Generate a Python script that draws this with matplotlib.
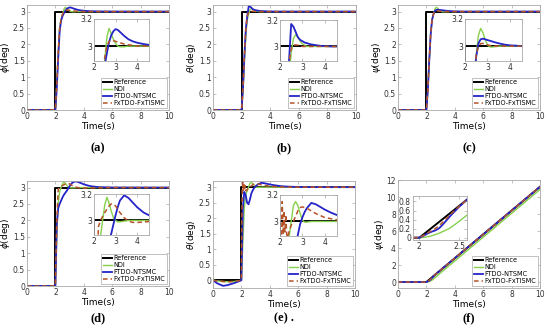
import matplotlib
matplotlib.use("Agg")
import matplotlib.pyplot as plt

# common time grid for the step responses (s)
T = [0, 0.3, 0.7, 1.0, 1.5, 1.9, 2.0, 2.1, 2.2, 2.3, 2.4, 2.5, 2.6, 2.7, 2.8, 2.9,
     3.0, 3.1, 3.2, 3.4, 3.6, 3.8, 4.0, 4.3, 4.6, 5.0, 6.0, 10.0]
Z = [0, 0, 0, 0, 0, 0, 0]

ref_t = [0, 2, 2, 10]
ref_y = [0, 0, 3, 3]

# (a) phi
ndi_a = Z + [0.8, 1.8, 2.5, 2.75, 2.9, 3.07, 3.13, 3.09, 3.05, 3.02, 3.0, 2.995, 2.995,
             3.0, 3.0, 3.0, 3.0, 3.0, 3.0, 3.0, 3.0]
ftdo_a = Z + [0.7, 1.6, 2.4, 2.72, 2.86, 2.95, 3.03, 3.08, 3.11, 3.125, 3.12, 3.105, 3.075,
              3.05, 3.035, 3.025, 3.015, 3.008, 3.004, 3.0, 3.0]
fx_a = Z + [0.8, 1.8, 2.5, 2.78, 2.92, 3.0, 3.035, 3.045, 3.04, 3.035, 3.03, 3.025, 3.015,
            3.01, 3.005, 3.0, 3.0, 3.0, 3.0, 3.0, 3.0]

# (b) theta
ndi_b = Z + [0.6, 1.5, 2.3, 2.75, 2.95, 3.06, 3.09, 3.07, 3.04, 3.02, 3.01, 3.0, 3.0,
             3.0, 3.0, 3.0, 3.0, 3.0, 3.0, 3.0, 3.0]
ftdo_b = Z + [0.7, 1.7, 2.5, 2.88, 3.17, 3.15, 3.11, 3.07, 3.05, 3.04, 3.03, 3.025, 3.015,
              3.01, 3.005, 3.003, 3.0, 3.0, 3.0, 3.0, 3.0]
fx_b = Z + [0.7, 1.7, 2.5, 2.88, 2.98, 3.01, 3.012, 3.01, 3.005, 3.0, 3.0, 3.0, 3.0,
            3.0, 3.0, 3.0, 3.0, 3.0, 3.0, 3.0, 3.0]

# (c) psi
ndi_c = Z + [0.6, 1.5, 2.3, 2.75, 2.93, 3.08, 3.13, 3.1, 3.05, 3.01, 2.995, 2.993, 2.997,
             3.0, 3.0, 3.0, 3.0, 3.0, 3.0, 3.0, 3.0]
ftdo_c = Z + [0.6, 1.5, 2.3, 2.75, 2.92, 3.02, 3.05, 3.055, 3.05, 3.045, 3.04, 3.035, 3.025,
              3.017, 3.01, 3.006, 3.003, 3.0, 3.0, 3.0, 3.0]
fx_c = Z + [0.6, 1.5, 2.3, 2.75, 2.93, 3.0, 3.018, 3.02, 3.015, 3.01, 3.005, 3.0, 3.0,
            3.0, 3.0, 3.0, 3.0, 3.0, 3.0, 3.0, 3.0]

# (d) phi
ndi_d = Z + [1.6, 2.55, 2.88, 3.0, 3.12, 3.175, 3.13, 3.07, 3.02, 3.0, 2.99, 2.99, 2.995,
             3.0, 3.0, 3.0, 3.0, 3.0, 3.0, 3.0, 3.0]
ftdo_d = Z + [1.9, 2.38, 2.5, 2.6, 2.7, 2.78, 2.84, 2.9, 2.97, 3.04, 3.1, 3.15, 3.19,
              3.17, 3.135, 3.1, 3.06, 3.035, 3.015, 3.002, 3.0]
fx_d = Z + [2.0, 2.95, 3.0, 3.03, 3.06, 3.085, 3.11, 3.125, 3.125, 3.11, 3.085, 3.06, 3.02,
            2.995, 2.985, 2.985, 2.988, 2.993, 2.998, 3.0, 3.0]

# (e) theta
ndi_e = [0, -0.02, -0.04, -0.05, -0.04, -0.01, 0, 1.2, 2.3, 2.75, 2.87, 3.0, 3.12, 3.15,
         3.12, 3.06, 3.01, 2.995, 2.995, 3.0, 3.0, 3.0, 3.0, 3.0, 3.0, 3.0, 3.0, 3.0]
ftdo_e = [0, -0.1, -0.18, -0.16, -0.09, -0.02, 0, 2.3, 2.85, 2.75, 2.5, 2.45, 2.6, 2.8,
          2.9, 2.98, 3.03, 3.07, 3.1, 3.14, 3.13, 3.11, 3.09, 3.065, 3.045, 3.025, 3.005, 3.0]
fx_e_t = [0, 0.3, 0.7, 1.0, 1.5, 1.9, 2.0, 2.03, 2.06, 2.1, 2.14, 2.18, 2.22, 2.26, 2.3,
          2.35, 2.4, 2.5, 2.6, 2.7, 2.8, 2.9, 3.0, 3.2, 3.4, 3.6, 3.8, 4.0, 4.3, 4.6, 5.0,
          6.0, 10.0]
fx_e = [0, -0.02, -0.04, -0.05, -0.04, -0.01, 0, 2.0, 2.9, 3.15, 2.9, 3.08, 2.92, 3.05, 2.9,
        2.88, 2.92, 2.97, 3.0, 3.04, 3.08, 3.105, 3.11, 3.1, 3.08, 3.06, 3.045, 3.03, 3.02,
        3.01, 3.005, 3.0, 3.0]

# (f) psi ramp
f_t = [0, 2.0, 2.05, 2.1, 2.15, 2.2, 2.25, 2.3, 2.35, 2.4, 2.5, 2.6, 3.0, 10.0]
ref_f = [0, 0, 0.07, 0.14, 0.21, 0.28, 0.35, 0.42, 0.49, 0.56, 0.7, 0.84, 1.4, 11.2]
ndi_f = [0, 0, 0.005, 0.02, 0.04, 0.07, 0.1, 0.14, 0.18, 0.23, 0.36, 0.5, 1.08, 10.88]
ftdo_f = [0, 0, 0.04, 0.09, 0.13, 0.16, 0.21, 0.3, 0.4, 0.5, 0.68, 0.84, 1.4, 11.2]
fx_f = [0, 0, 0.05, 0.1, 0.15, 0.2, 0.27, 0.35, 0.44, 0.53, 0.69, 0.84, 1.4, 11.2]

labels = ['Reference', 'NDI', 'FTDO-NTSMC', 'FxTDO-FxTISMC']
c_ref, c_ndi, c_ftdo, c_fx = 'black', '#86d04c', '#2424c8', '#b5532a'

fig = plt.figure(figsize=(5.5, 3.33), dpi=100)


def box(x0, y0, x1, y1):
    return fig.add_axes([x0 / 550, 1 - y1 / 333, (x1 - x0) / 550, (y1 - y0) / 333])


def style(ax, fs=5.5):
    for s in ax.spines.values():
        s.set_color('#a8a8a8')
        s.set_linewidth(0.6)
    ax.tick_params(direction='in', length=2, width=0.5, color='#a8a8a8',
                   labelsize=fs, labelcolor='#333333', pad=1.5, top=True, right=True)


def curves(ax, rt, ry, t1, y1, t2, y2, t3, y3):
    ax.plot(rt, ry, color=c_ref, lw=1.4)
    ax.plot(t1, y1, color=c_ndi, lw=1.0)
    ax.plot(t2, y2, color=c_ftdo, lw=1.3)
    ax.plot(t3, y3, color=c_fx, lw=1.1, ls=(0, (3, 2)))


def legend(ax):
    leg = ax.legend(labels, loc='lower right', fontsize=4.7, handlelength=1.3,
                    labelspacing=0.15, borderpad=0.3, handletextpad=0.3,
                    borderaxespad=0.25, fancybox=False, framealpha=1,
                    edgecolor='#a8a8a8')
    leg.get_frame().set_linewidth(0.5)


panels = [
    ('(a)', r'$\phi$(deg)', (27, 5, 169, 110), (94, 19, 149, 61), ndi_a, ftdo_a, T, fx_a, 148),
    ('(b)', r'$\theta$(deg)', (213, 5, 356, 110), (280, 20, 337, 61), ndi_b, ftdo_b, T, fx_b, 148),
    ('(c)', r'$\psi$(deg)', (398, 5, 540, 110), (465, 19, 522, 61), ndi_c, ftdo_c, T, fx_c, 148),
    ('(d)', r'$\phi$(deg)', (27, 181, 169, 286), (94, 194, 149, 235), ndi_d, ftdo_d, T, fx_d, 318),
    ('(e) .', r'$\theta$(deg)', (213, 181, 355, 288), (280, 195, 337, 236), ndi_e, ftdo_e, fx_e_t, fx_e, 318),
]

for cap, ylab, main, ins, ndi, ftdo, fxt, fx, capy in panels:
    ax = box(*main)
    curves(ax, ref_t, ref_y, T, ndi, T, ftdo, fxt, fx)
    ax.set_xlim(0, 10)
    if cap.startswith('(e'):
        ax.set_ylim(-0.25, 3.2)
    else:
        ax.set_ylim(0, 3.2)
    ax.set_xticks([0, 2, 4, 6, 8, 10])
    ax.set_yticks([0, 0.5, 1, 1.5, 2, 2.5, 3])
    ax.set_yticklabels(['0', '0.5', '1', '1.5', '2', '2.5', '3'])
    style(ax)
    ax.set_xlabel('Time(s)', fontsize=6.5, labelpad=1)
    ax.set_ylabel(ylab, fontsize=6.5, labelpad=0.5)
    legend(ax)
    ia = box(*ins)
    curves(ia, ref_t, ref_y, T, ndi, T, ftdo, fxt, fx)
    ia.set_xlim(2, 4.55)
    ia.set_ylim(2.89, 3.2)
    ia.set_xticks([2, 3, 4])
    ia.set_yticks([3, 3.2])
    ia.set_yticklabels(['3', '3.2'])
    style(ia)
    x0, x1 = main[0], main[2]
    fig.text((x0 + x1) / 2 / 550, 1 - capy / 333, cap, ha='center', va='center',
             fontsize=9, fontweight='bold', family='Liberation Serif')

# (f)
ax = box(398, 180, 540, 288)
curves(ax, f_t, ref_f, f_t, ndi_f, f_t, ftdo_f, f_t, fx_f)
ax.set_xlim(0, 10)
ax.set_ylim(-0.7, 12)
ax.set_xticks([0, 2, 4, 6, 8, 10])
ax.set_yticks([0, 2, 4, 6, 8, 10, 12])
style(ax)
ax.set_xlabel('Time(s)', fontsize=6.5, labelpad=1)
ax.set_ylabel(r'$\psi$(deg)', fontsize=6.5, labelpad=0.5)
legend(ax)
ia = box(413, 196, 467, 240)
curves(ia, f_t, ref_f, f_t, ndi_f, f_t, ftdo_f, f_t, fx_f)
ia.set_xlim(1.92, 2.6)
ia.set_ylim(-0.05, 0.92)
ia.set_xticks([2, 2.5])
ia.set_xticklabels(['2', '2.5'])
ia.set_yticks([0, 0.2, 0.4, 0.6, 0.8])
ia.set_yticklabels(['0', '0.2', '0.4', '0.6', '0.8'])
style(ia)
fig.text(469 / 550, 1 - 318 / 333, '(f)', ha='center', va='center',
         fontsize=9, fontweight='bold', family='Liberation Serif')

fig.savefig('out.png', dpi=100)
